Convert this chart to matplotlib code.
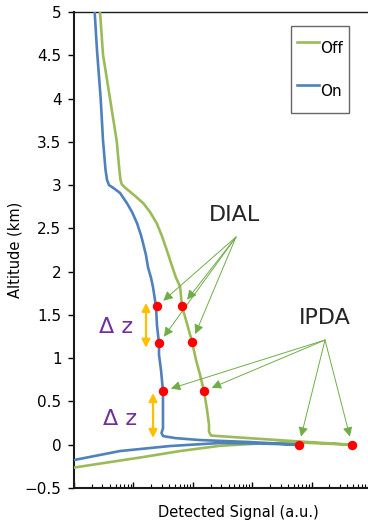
import numpy as np
import matplotlib
matplotlib.use("Agg")
import matplotlib.pyplot as plt
from matplotlib.lines import Line2D
from matplotlib.ticker import FixedLocator, FixedFormatter, LogLocator, NullFormatter

plt.rcParams['font.family'] = ['DejaVu Sans']

# ---- data (x = detected signal, log10 a.u.; y = altitude km) ----
on_logx = [0.348, 0.387, 0.449, 0.488, 0.53, 0.556, 0.589, 0.657, 0.774, 0.892, 0.976,
           1.061, 1.128, 1.162, 1.212, 1.246, 1.296, 1.33, 1.38, 1.397, 1.431, 1.431,
           1.465, 1.498, 1.498, 1.498, 1.473, 1.5, 1.70, 2.12, 2.963, 3.788,
           3.13, 2.458, 1.616, 0.774, 0.0]
on_alt = [5.0, 4.56, 4.0, 3.52, 3.18, 3.06, 3.0, 2.97, 2.91, 2.79, 2.69,
          2.56, 2.42, 2.33, 2.19, 2.05, 1.93, 1.82, 1.60, 1.38, 1.17, 1.04,
          0.86, 0.62, 0.40, 0.19, 0.135, 0.10, 0.077, 0.054, 0.031, 0.0,
          0.014, 0.02, -0.015, -0.073, -0.177]

off_logx = [0.438, 0.488, 0.606, 0.719, 0.763, 0.783, 0.803, 0.859, 0.914, 1.027, 1.167,
            1.279, 1.392, 1.481, 1.561, 1.616, 1.672, 1.717, 1.785, 1.818, 1.886, 1.987,
            2.054, 2.121, 2.189, 2.24, 2.273, 2.273, 2.306, 2.795, 3.805, 4.68,
            3.805, 3.131, 2.458, 1.785, 1.195, 0.0]
off_alt = [5.0, 4.51, 4.0, 3.51, 3.18, 3.06, 3.01, 2.97, 2.94, 2.875, 2.79,
           2.69, 2.56, 2.41, 2.25, 2.135, 2.02, 1.93, 1.83, 1.60, 1.44, 1.19,
           0.98, 0.81, 0.62, 0.40, 0.23, 0.15, 0.106, 0.083, 0.037, 0.0,
           0.025, 0.014, -0.012, -0.073, -0.139, -0.264]

dial_logx = [1.397, 1.431, 1.818, 1.987]
dial_alt = [1.60, 1.17, 1.60, 1.19]
ipda_logx = [1.498, 3.788, 2.189, 4.68]
ipda_alt = [0.62, 0.0, 0.62, 0.0]

ytick_vals = [5, 4.5, 4, 3.5, 3, 2.5, 2, 1.5, 1, 0.5, 0, -0.5]
ytick_labels = ['5', '4.5', '4', '3.5', '3', '2.5', '2', '1.5', '1', '0.5', '0', '\u22120.5']

series_labels = ['Off', 'On']

GREEN = '#9BBB59'
BLUE = '#4F81BD'
ARROW_GREEN = '#70AD47'
ORANGE = '#FFC000'
PURPLE = '#7030A0'

W, H = 368, 522
fig = plt.figure(figsize=(W / 100, H / 100), dpi=100)
ax = fig.add_axes([74 / W, (H - 488) / H, (371 - 74) / W, (488 - 12) / H])
ax.set_xscale('log')
ax.set_xlim(1, 1e5)
ax.set_ylim(-0.5, 5)

ax.plot(10 ** np.array(off_logx), off_alt, color=GREEN, lw=1.9, solid_joinstyle='round', zorder=3)
ax.plot(10 ** np.array(on_logx), on_alt, color=BLUE, lw=1.9, solid_joinstyle='round', zorder=3)

ax.plot(10 ** np.array(dial_logx), dial_alt, 'o', color='red', ms=6.8, zorder=5, mec='none')
ax.plot(10 ** np.array(ipda_logx), ipda_alt, 'o', color='red', ms=6.8, zorder=5, mec='none')

# annotations
aprops = dict(arrowstyle='-|>', color=ARROW_GREEN, lw=0.7, mutation_scale=14,
              shrinkA=0, shrinkB=6)
dial_src = (10 ** 2.727, 2.40)
for lx, y in zip(dial_logx, dial_alt):
    ax.annotate('', xy=(10 ** lx, y), xytext=dial_src, arrowprops=aprops, zorder=4)
ipda_src = (10 ** 4.226, 1.21)
for lx, y in zip(ipda_logx, ipda_alt):
    ax.annotate('', xy=(10 ** lx, y), xytext=ipda_src, arrowprops=aprops, zorder=4)

ax.text(10 ** 2.71, 2.65, 'DIAL', fontsize=16, color='#262626', ha='center', va='center')
ax.text(10 ** 4.226, 1.465, 'IPDA', fontsize=16, color='#262626', ha='center', va='center')

oprops = dict(arrowstyle='<|-|>', color=ORANGE, lw=1.6, mutation_scale=12, shrinkA=0, shrinkB=0)
ax.annotate('', xy=(10 ** 1.212, 1.64), xytext=(10 ** 1.212, 1.12), arrowprops=oprops)
ax.annotate('', xy=(10 ** 1.33, 0.598), xytext=(10 ** 1.33, 0.077), arrowprops=oprops)
ax.text(10 ** 0.707, 1.36, '\u0394 z', fontsize=16, color=PURPLE, ha='center', va='center')
ax.text(10 ** 0.774, 0.30, '\u0394 z', fontsize=16, color=PURPLE, ha='center', va='center')

# axes styling
ax.yaxis.set_major_locator(FixedLocator(ytick_vals))
ax.yaxis.set_major_formatter(FixedFormatter(ytick_labels))
ax.tick_params(axis='y', direction='out', length=4, width=1, labelsize=11, pad=5)
ax.xaxis.set_major_locator(LogLocator(base=10, numticks=10))
ax.xaxis.set_minor_locator(LogLocator(base=10, subs=np.arange(2, 10), numticks=20))
ax.xaxis.set_major_formatter(NullFormatter())
ax.xaxis.set_minor_formatter(NullFormatter())
ax.tick_params(axis='x', which='major', direction='in', length=4.5, width=1)
ax.tick_params(axis='x', which='minor', direction='in', length=3, width=0.8)

ax.spines['left'].set_linewidth(1.5)
ax.spines['bottom'].set_linewidth(1.5)
ax.spines['top'].set_linewidth(1.0)
ax.spines['right'].set_visible(False)
for s in ax.spines.values():
    s.set_color('#1a1a1a')

ax.set_xlabel('Detected Signal (a.u.)', fontsize=10.5)
ax.xaxis.set_label_coords(0.552, -0.036)
ax.set_ylabel('Altitude (km)', fontsize=10.5)
ax.yaxis.set_label_coords(-0.172, 0.5)

handles = [Line2D([], [], color=GREEN, lw=1.9), Line2D([], [], color=BLUE, lw=1.9)]
leg = ax.legend(handles, series_labels, loc='upper left',
                bbox_to_anchor=((291 - 74) / 297, (488 - 26) / 476),
                borderaxespad=0, fontsize=11, handlelength=1.45, handletextpad=0.1,
                handleheight=2.9, labelspacing=0.7, borderpad=0.38, fancybox=False,
                frameon=True, edgecolor='#404040')
leg.get_frame().set_linewidth(1.0)

fig.savefig('out.png', dpi=100)
